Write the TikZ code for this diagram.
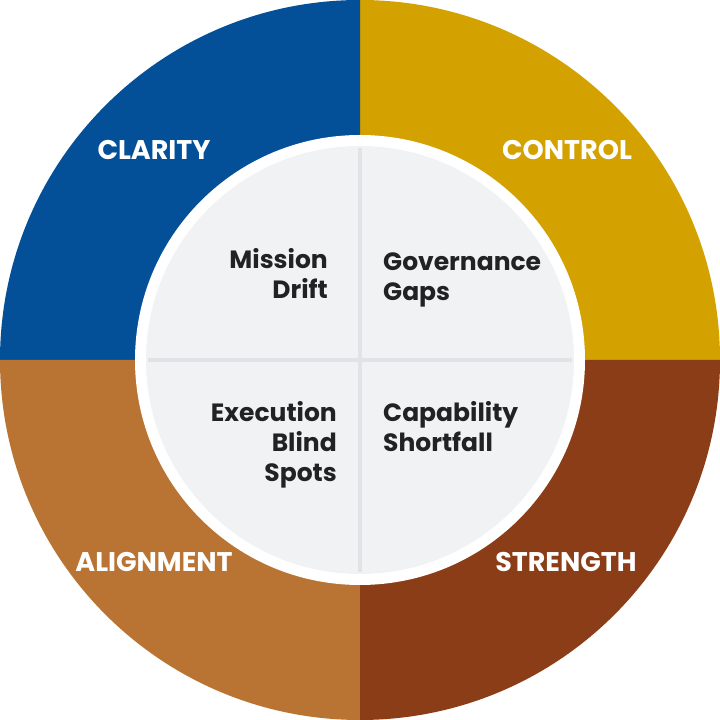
\documentclass[tikz,border=0pt]{standalone}
\usepackage{fontspec}
\setmainfont{Poppins}
\definecolor{cblue}{HTML}{034F98}
\definecolor{cgold}{HTML}{D3A100}
\definecolor{cbrown}{HTML}{8A3D17}
\definecolor{corange}{HTML}{B97434}
\definecolor{cinner}{HTML}{F1F2F4}
\definecolor{cdiv}{HTML}{E2E3E6}
\definecolor{ctext}{HTML}{222222}
\tikzset{
  outerlbl/.style={text=white, font=\fontsize{27}{30}\selectfont\bfseries, inner sep=0pt},
  innerlbl/.style={text=ctext, font=\fontsize{25}{30}\selectfont\bfseries, inner sep=0pt},
}
\begin{document}
\begin{tikzpicture}[x=1pt,y=1pt]
\useasboundingbox (0,0) rectangle (720,720);
\coordinate (c) at (360,360);
% outer sectors
\fill[cgold]   (c) -- (360,720) arc[start angle=90, end angle=0, radius=360] -- cycle;
\fill[cblue]   (c) -- (0,360) arc[start angle=180, end angle=90, radius=360] -- cycle;
\fill[corange] (c) -- (0,360) arc[start angle=180, end angle=270, radius=360] -- cycle;
\fill[cbrown]  (c) -- (360,0) arc[start angle=270, end angle=360, radius=360] -- cycle;
% white ring and inner disc
\fill[white] (c) circle[radius=225];
\fill[cinner] (c) circle[radius=214];
% dividers
\draw[cdiv, line width=4pt] (360,572) -- (360,148);
\draw[cdiv, line width=4pt] (148,360) -- (572,360);
% outer labels
\node[outerlbl] (clarity)   at (154,570) {CLARITY};
\node[outerlbl] (control)   at (567,570) {CONTROL};
\node[outerlbl] (alignment) at (154,158) {ALIGNMENT};
\node[outerlbl] (strength)  at (566,158) {STRENGTH};
% inner labels
\node[innerlbl, anchor=north east, align=right] (mission) at (328,472) {Mission\\Drift};
\node[innerlbl, anchor=north west, align=left] (governance) at (383,467) {Governance\\Gaps};
\node[innerlbl, anchor=north east, align=right] (execution) at (337,319) {Execution\\Blind\\Spots};
\node[innerlbl, anchor=north west, align=left] (capability) at (383,319) {Capability\\Shortfall};
\end{tikzpicture}
\end{document}
